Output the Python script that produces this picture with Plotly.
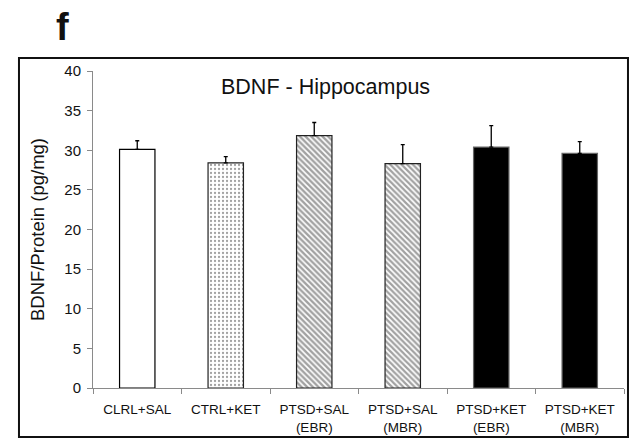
import plotly.graph_objects as go

categories = ["CLRL+SAL", "CTRL+KET", "PTSD+SAL<br>(EBR)", "PTSD+SAL<br>(MBR)",
              "PTSD+KET<br>(EBR)", "PTSD+KET<br>(MBR)"]
means = [30.1, 28.4, 31.85, 28.3, 30.4, 29.6]
errors = [1.1, 0.8, 1.65, 2.4, 2.7, 1.5]
fill_colors = ["white", "white", "white", "white", "black", "black"]
pattern_shapes = ["", ".", "\\", "\\", "", ""]
pattern_solidity = [0.3, 0.25, 0.6, 0.55, 0.3, 0.3]
y_ticks = [0, 5, 10, 15, 20, 25, 30, 35, 40]

FONT = "Liberation Sans, Arial, sans-serif"

fig = go.Figure()
fig.add_trace(go.Bar(
    x=categories,
    y=means,
    width=0.4,
    marker=dict(
        color=fill_colors,
        line=dict(color=["black", "#222", "#222", "#222", "#666", "#666"], width=1.2),
        pattern=dict(shape=pattern_shapes, fgcolor="#2a2a2a", bgcolor=fill_colors,
                     size=4, solidity=pattern_solidity, fillmode="overlay"),
    ),
    error_y=dict(type="data", symmetric=False, array=errors,
                 arrayminus=[0] * len(errors), color="black", thickness=1.3, width=2),
    showlegend=False,
))

fig.update_layout(
    width=632, height=441,
    margin=dict(l=93, r=8, t=71, b=53),
    paper_bgcolor="white", plot_bgcolor="white",
    font=dict(family=FONT, color="#111"),
    xaxis=dict(
        automargin=False,
        showline=True, linecolor="#8a8a8a", linewidth=1,
        ticks="outside", ticklen=5, tickcolor="#8a8a8a",
        tickson="boundaries", showgrid=False,
        ticklabelstandoff=9,
        tickfont=dict(size=13.5, family=FONT, color="#111"),
    ),
    yaxis=dict(
        automargin=False,
        range=[0, 40], tickvals=y_ticks,
        showline=True, linecolor="#8a8a8a", linewidth=1,
        ticks="outside", ticklen=5, tickcolor="#8a8a8a",
        showgrid=False, zeroline=False,
        ticklabelstandoff=3,
        tickfont=dict(size=15, family=FONT, color="#111"),
        title=dict(text="BDNF/Protein (pg/mg)", font=dict(size=18.5, family=FONT, color="#111"),
                   standoff=14),
    ),
)

# outer frame
fig.add_shape(type="rect", xref="paper", yref="paper",
              x0=-0.1394, x1=1.0075, y0=-0.1546, y1=1.041,
              line=dict(color="#111", width=2), fillcolor="rgba(0,0,0,0)", layer="above")

fig.add_annotation(text="BDNF - Hippocampus", xref="paper", yref="paper",
                   x=(325.5 - 93) / 531, y=(388 - 87) / 317, showarrow=False,
                   xanchor="center", yanchor="middle",
                   font=dict(size=21.5, family=FONT, color="#111"))
fig.add_annotation(text="<b>f</b>", xref="paper", yref="paper",
                   x=(62 - 93) / 531, y=(388 - 27) / 317, showarrow=False,
                   xanchor="center", yanchor="middle",
                   font=dict(size=38, family=FONT, color="#111"))

fig.write_html("out.html")
